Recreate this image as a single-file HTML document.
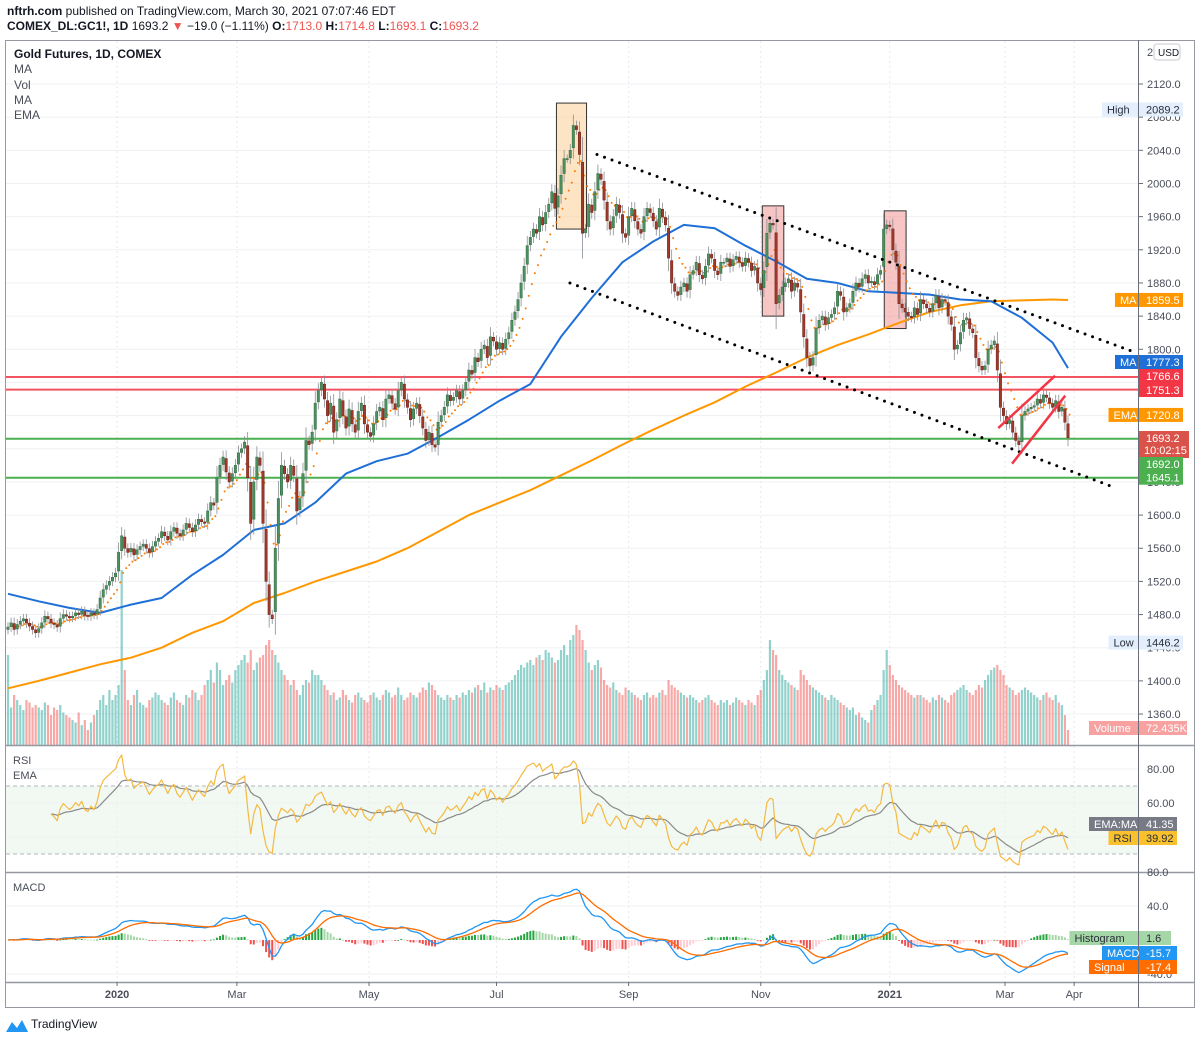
<!DOCTYPE html>
<html><head><meta charset="utf-8">
<style>
html,body{margin:0;padding:0;background:#fff;}
body{width:1200px;height:1040px;overflow:hidden;font-family:"Liberation Sans",sans-serif;}
svg text{font-family:"Liberation Sans",sans-serif;}
</style></head>
<body>
<svg id="c" width="1200" height="1040" viewBox="0 0 1200 1040" xmlns="http://www.w3.org/2000/svg">
<text x="7" y="15" font-size="12" fill="#131722"><tspan font-weight="bold">nftrh.com</tspan> published on TradingView.com, March 30, 2021 07:07:46 EDT</text>
<text x="7" y="30" font-size="12" fill="#131722"><tspan font-weight="bold">COMEX_DL:GC1!, 1D</tspan> 1693.2 <tspan fill="#ef5350">▼</tspan> −19.0 (−1.11%) <tspan font-weight="bold">O:</tspan><tspan fill="#ef5350">1713.0</tspan> <tspan font-weight="bold">H:</tspan><tspan fill="#ef5350">1714.8</tspan> <tspan font-weight="bold">L:</tspan><tspan fill="#ef5350">1693.1</tspan> <tspan font-weight="bold">C:</tspan><tspan fill="#ef5350">1693.2</tspan></text>
<g id="grid"></g>
<g id="marks"></g>
<g id="axes"></g>
</svg>
<script>
// ---- data ----
const closes = [
1465,1470,1462,1468,1472,1475,1470,1466,1462,1458,1463,1470,1478,1475,1470,1468,1465,1475,1480,1478,1476,1478,1482,1480,1484,1479,1478,1482,1480,1486,
1500,1510,1515,1520,1525,1530,
1555,1575,1560,
1555,1560,1552,1558,1562,1565,1560,1555,1562,1568,
1572,1580,1575,1570,1580,1585,1578,1575,1582,1590,1585,1580,1588,1595,1592,1590,
1605,1615,1612,
1645,1660,1670,1652,1640,1650,1660,1675,1680,1688,
1645,1590,1640,1670,1660,1590,1520,1480,1475,
1560,1620,1660,1650,1640,1660,1648,
1605,1620,1650,1690,1685,1700,1735,
1750,1760,1740,
1720,1735,1700,1715,1740,1720,1705,1728,1710,1700,1725,1735,1710,1700,1695,1710,1725,1730,1715,1740,1745,1735,1728,
1750,1760,1740,1730,1715,1728,1735,
1720,1705,1690,1700,1685,1682,1712,1720,
1730,1745,1738,1742,1750,1740,1750,1760,
1775,1770,1790,1785,1800,1805,1790,1815,1810,1800,
1808,1800,1812,
1820,1835,1845,1860,1880,1900,1925,1935,1945,1940,
1960,1950,1965,1975,1990,1970,1985,
2010,2030,2030,2040,2070,2065,
2035,1940,1945,
1975,1965,1990,2012,2005,
1980,1955,1945,1960,1975,1965,1940,1935,1960,1970,1955,1945,1940,1960,1970,1965,
1955,1945,1970,1960,1950,
1910,1880,1870,1865,1875,1880,1870,
1890,1895,1905,1890,1885,1900,1915,1910,1895,1890,1905,
1905,1910,1900,1908,1912,1905,1900,1910,1905,1895,1900,
1880,1872,
1895,1940,1952,1950,
1855,1865,1875,1880,1885,1870,1880,1875,
1845,1815,1790,1780,1790,
1825,1835,1840,1830,1838,1842,1850,1870,1865,1845,1850,
1855,1870,1880,1875,1885,1890,1880,1882,1878,1890,1895,
1945,1950,1948,1920,1905,
1855,1850,1845,1840,1838,1850,1842,
1860,1855,1850,1845,1855,1865,1850,1860,1858,1840,
1830,1800,1805,1820,1835,1838,1825,1820,
1790,1780,1775,1780,1800,1805,1810,1775,
1730,1720,1710,1715,1700,1690,1685,
1720,1725,1728,1730,1732,1740,1735,
1745,1742,1735,1730,1738,1725,1730,1712,1693.2];
const volumes = [
360,150,200,180,160,140,180,170,150,160,150,140,170,160,120,150,140,160,130,120,110,100,90,130,80,100,60,90,120,140,
180,200,160,220,180,200,
240,700,300,
180,160,200,220,170,160,150,180,190,210,
200,180,170,160,190,210,180,170,160,200,190,220,210,180,200,240,
260,300,250,
330,300,240,260,280,250,300,320,340,360,
330,380,300,330,350,360,400,420,380,
360,330,300,280,260,240,260,
220,200,240,260,250,300,280,
280,260,240,
220,200,210,180,190,220,200,180,170,200,210,190,180,170,200,210,190,180,200,220,210,190,200,
230,200,180,190,210,200,190,
210,230,220,250,240,220,200,190,
180,200,190,180,200,190,210,200,
220,210,230,240,220,250,210,230,220,240,
230,220,240,
250,260,280,300,320,310,330,340,320,350,
360,340,380,370,350,330,340,
380,400,360,420,440,480,
460,420,380,
330,300,320,340,310,
260,240,230,250,220,210,200,230,220,210,200,190,180,200,210,190,
200,190,210,220,200,
260,240,230,220,210,200,190,
200,190,180,170,180,190,200,180,170,160,180,
170,180,160,170,190,180,170,160,180,170,160,
200,220,
260,300,420,380,
360,300,280,260,250,240,230,220,
300,280,260,240,230,
220,210,200,190,180,200,190,180,170,160,150,
140,150,120,130,110,100,90,140,160,180,200,
300,380,320,280,260,
240,230,220,210,200,190,200,
200,190,180,170,190,180,200,190,180,170,
200,210,220,230,240,220,210,200,
220,240,230,260,280,300,310,320,
300,280,240,230,220,200,210,
220,230,220,210,200,190,180,
200,210,190,180,200,170,160,120,60];
// 50-day MA sampled every 10 bars (last = final bar)
const ma50 = [1505,1496,1488,1482,1492,1500,1528,1552,1582,1590,1615,1650,1665,1674,1694,1715,1738,1758,1815,1862,1905,1930,1950,1946,1925,1906,1885,1880,1870,1868,1866,1860,1858,1838,1808,1777.3];
// 200-day MA sampled every 10 bars (last = final bar)
const ma200 = [1391,1400,1410,1420,1428,1440,1458,1472,1494,1506,1520,1532,1544,1560,1580,1600,1615,1630,1648,1666,1685,1703,1720,1736,1755,1772,1790,1805,1818,1832,1845,1853,1858,1859,1860,1859.5];
const priceTicks = [1360,1400,1440,1480,1520,1560,1600,1640,1680,1720,1760,1800,1840,1880,1920,1960,2000,2040,2080,2120];
const timeLabels = ["2020","Mar","May","Jul","Sep","Nov","2021","Mar","Apr"];
const timeIdx = [35.5,74.5,117.5,159,202,245,287,324.5,347];
const timeBold = [1,0,0,0,0,0,1,0,0];
const hLevelsRed = [1766.6,1751.3];
const hLevelsGreen = [1692.0,1645.1];

// ---- scales ----
const N = closes.length;
const step = (1068-8)/(N-1);
const xI = i => 8 + i*step;
const yP = p => 84 + (2120-p)*0.829;
const yR = v => 803 - (v-60)*1.7;
const yM = v => 940 - v*0.85;
const NS = "http://www.w3.org/2000/svg";
function mk(tag, attrs, parent){const e=document.createElementNS(NS,tag);for(const k in attrs)e.setAttribute(k,attrs[k]);(parent||document.getElementById('marks')).appendChild(e);return e;}
const grid=document.getElementById('grid'), marks=document.getElementById('marks'), axes=document.getElementById('axes');

let e;
e=mk('rect',{x:5.5,y:40.5,width:1189,height:967,fill:'none',stroke:'#9598a1','stroke-width':1},axes);


[745.5,872.5,982.5].forEach(y=>{e=mk('line',{x1:5,x2:1195,y1:y,y2:y,stroke:'#9598a1','stroke-width':1.5},axes);

});
e=mk('line',{x1:1138.5,x2:1138.5,y1:40,y2:1008,stroke:'#6a6d78','stroke-width':1},axes);



priceTicks.forEach(p=>{const y=yP(p);
 e=mk('line',{x1:6,x2:1138,y1:y,y2:y,stroke:'#eef0f4','stroke-width':1},grid);
 
 
 mk('line',{x1:1138,x2:1143,y1:y,y2:y,stroke:'#6a6d78'},axes);
 e=mk('text',{x:1147,y:y+4,'font-size':11,fill:'#4a4e5a'},axes);e.textContent=p.toFixed(1);
 
 
});
e=mk('text',{x:1147,y:56,'font-size':11,fill:'#4a4e5a'},axes);e.textContent='2';


e=mk('rect',{x:1154,y:44,width:26,height:16,rx:3,fill:'#fff',stroke:'#c8cad0'},axes);


e=mk('text',{x:1158,y:56,'font-size':10,fill:'#131722'},axes);e.textContent='USD';



timeLabels.forEach((t,k)=>{const x=xI(timeIdx[k]);
 e=mk('line',{x1:x,x2:x,y1:41,y2:982,stroke:'#e6e8ee','stroke-dasharray':'2,3'},grid);
 
 
 mk('line',{x1:x,x2:x,y1:982,y2:986,stroke:'#6a6d78'},axes);
 e=mk('text',{x:x,y:998,'font-size':11,fill:'#4a4e5a','text-anchor':'middle','font-weight':timeBold[k]?'bold':'normal'},axes);e.textContent=t;
 
 
});

e=mk('rect',{x:6,y:yR(70),width:1132,height:yR(30)-yR(70),fill:'#e8f5e9','fill-opacity':0.6},grid);


[70,30].forEach(v=>{e=mk('line',{x1:6,x2:1138,y1:yR(v),y2:yR(v),stroke:'#b2b5be','stroke-dasharray':'4,3'},grid);

});
[80,60,40].forEach(v=>{const y=yR(v);
 mk('line',{x1:6,x2:1138,y1:y,y2:y,stroke:'#eef0f4'},grid);
 if(v!==40){e=mk('text',{x:1147,y:y+4,'font-size':11,fill:'#4a4e5a'},axes);e.textContent=v.toFixed(2);
 
 }
});
[40,-40].forEach(v=>{const y=yM(v);
 mk('line',{x1:6,x2:1138,y1:y,y2:y,stroke:'#eef0f4'},grid);
 e=mk('text',{x:1147,y:y+4,'font-size':11,fill:'#4a4e5a'},axes);e.textContent=v.toFixed(1);
 
 
});
e=mk('text',{x:1147,y:876,'font-size':11,fill:'#4a4e5a'},axes);e.textContent='80.0';



const defs=mk('defs',{},document.getElementById('c'));
const cp=mk('clipPath',{id:'mainclip'},defs);mk('rect',{x:6,y:41,width:1132,height:704},cp);
const cp2=mk('clipPath',{id:'rsiclip'},defs);mk('rect',{x:6,y:746,width:1132,height:126},cp2);
const cp3=mk('clipPath',{id:'macdclip'},defs);mk('rect',{x:6,y:873,width:1132,height:109},cp3);
const mainG=mk('g',{'clip-path':'url(#mainclip)'},marks);



for(let i=0;i<N;i++){const o=i?closes[i-1]:closes[0];const up=closes[i]>=o;const h=(volumes[i]||0)*0.25;
 e=mk('rect',{x:xI(i)-1.1,y:745-h,width:2.2,height:h,fill:up?'#26a69a':'#ef5350','fill-opacity':0.5},mainG);
 
 
}

function box(i0,i1,p0,p1,fill,name){e=mk('rect',{x:xI(i0),y:yP(p1),width:xI(i1)-xI(i0),height:yP(p0)-yP(p1),fill:fill,'fill-opacity':0.5,stroke:'#333','stroke-width':1},mainG);
 
 }
box(178.5,188.3,1945,2097,'#fbc98a','highlight-box-aug');
box(245.5,252.5,1840,1973,'#f28b8b','highlight-box-nov');
box(285.2,292.3,1825,1967,'#f28b8b','highlight-box-jan');

hLevelsRed.forEach(p=>{e=mk('line',{x1:6,x2:1138,y1:yP(p),y2:yP(p),stroke:'#f23645','stroke-width':2,'stroke-opacity':0.85},mainG);
 
 });
hLevelsGreen.forEach(p=>{e=mk('line',{x1:6,x2:1138,y1:yP(p),y2:yP(p),stroke:'#4caf50','stroke-width':2},mainG);
 
 });

function sampled(arr){return arr.map((v,k)=>[k===arr.length-1?xI(N-1):xI(k*10),yP(v)]);}
function poly(pts,stroke,w,parent,name,extra){e=mk('polyline',Object.assign({points:pts.map(p=>p[0].toFixed(1)+','+p[1].toFixed(1)).join(' '),fill:'none',stroke:stroke,'stroke-width':w,'stroke-linejoin':'round'},extra||{}),parent);
 
 return e;}
poly(sampled(ma200),'#ff9800',2,mainG,'ma-200-line');
poly(sampled(ma50),'#1e6fd6',2,mainG,'ma-50-line');

let ema=closes[0];const k9=2/10;
for(let i=0;i<N;i++){ema=closes[i]*k9+ema*(1-k9);
 if(i>0){e=mk('circle',{cx:xI(i)+1.5,cy:yP(ema),r:1,fill:'#ff7a00'},mainG);
 
 }
}

for(let i=0;i<N;i++){const o=i?closes[i-1]+(closes[i]-closes[i-1])*0.1:closes[0]-3;const c=closes[i];const up=c>=o;
 const w=Math.abs(c-o)*0.3+5;const hi=Math.max(o,c)+w;const lo=Math.min(o,c)-w;const x=xI(i);
 e=mk('line',{x1:x,x2:x,y1:yP(hi),y2:yP(lo),stroke:'#8a8d95','stroke-width':0.8},mainG);
 
 
 const yt=yP(Math.max(o,c)),yb=yP(Math.min(o,c));
 e=mk('rect',{x:x-1.2,y:yt,width:2.4,height:Math.max(1,yb-yt),fill:up?'#4d8f5e':'#9e3a2c',stroke:up?'#2f6b40':'#6e1f15','stroke-width':0.5},mainG);
 
 
}

function dotted(i0,p0,i1,p1,name){e=mk('line',{x1:xI(i0),y1:yP(p0),x2:xI(i1),y2:yP(p1),stroke:'#000','stroke-width':3,'stroke-dasharray':'0,8','stroke-linecap':'round'},mainG);
 
 }
dotted(191.7,2035,366.3,1797,'channel-upper-line');
dotted(182.9,1880,358.9,1635,'channel-lower-line');
function solid(i0,p0,i1,p1,name){e=mk('line',{x1:xI(i0),y1:yP(p0),x2:xI(i1),y2:yP(p1),stroke:'#f23645','stroke-width':2.5},mainG);
 
 }
solid(322.3,1705,340.8,1768,'flag-upper-line');
solid(326.8,1662,344.1,1744,'flag-lower-line');

// RSI
const rsi=new Array(N).fill(null);let ag=0,al=0;
for(let i=1;i<N;i++){const d=closes[i]-closes[i-1];const g=Math.max(d,0),l=Math.max(-d,0);
 if(i<=14){ag+=g/14;al+=l/14;if(i===14)rsi[i]=100-100/(1+ag/(al||1e-9));}
 else{ag=(ag*13+g)/14;al=(al*13+l)/14;rsi[i]=100-100/(1+ag/(al||1e-9));}}
const rsiG=mk('g',{'clip-path':'url(#rsiclip)'},marks);


const rsiPts=[],rsiEma=[];let re=null;
for(let i=0;i<N;i++){if(rsi[i]==null)continue;rsiPts.push([xI(i),yR(rsi[i])]);re=re==null?rsi[i]:rsi[i]*2/15+re*13/15;rsiEma.push([xI(i),yR(re)]);}
poly(rsiEma,'#8a8a8a',1.2,rsiG,'rsi-ema-line');
poly(rsiPts,'#f5b942',1.2,rsiG,'rsi-line');

// MACD
function emaArr(a,n){const k=2/(n+1);let v=a[0];return a.map(x=>v=x*k+v*(1-k));}
const e12=emaArr(closes,12),e26=emaArr(closes,26);const macd=closes.map((_,i)=>e12[i]-e26[i]);const sig=emaArr(macd,9);
const macdG=mk('g',{'clip-path':'url(#macdclip)'},marks);


for(let i=1;i<N;i++){const h=macd[i]-sig[i];const hp=macd[i-1]-sig[i-1];
 const col=h>=0?(h>=hp?'#26a641':'#a5d6a7'):(h<=hp?'#ef5350':'#ffcdd2');
 const y0=yM(0),y1=yM(h);
 e=mk('rect',{x:xI(i)-1,y:Math.min(y0,y1),width:2,height:Math.max(0.8,Math.abs(y1-y0)),fill:col},macdG);
 
 
}
poly(macd.map((v,i)=>[xI(i),yM(v)]),'#2196f3',1.3,macdG,'macd-line');
poly(sig.map((v,i)=>[xI(i),yM(v)]),'#ff6d00',1.3,macdG,'signal-line');

function txt(x,y,s,t,opts,name){e=mk('text',Object.assign({x:x,y:y,'font-size':s,fill:'#4a4e5a'},opts||{}),axes);e.textContent=t;
 
 return e;}
txt(14,58,12,'Gold Futures, 1D, COMEX',{'font-weight':'bold',fill:'#131722'},'chart-title');
txt(14,73,12,'MA',{},'legend-ma');
txt(14,89,12,'Vol',{},'legend-vol');
txt(14,104,12,'MA',{},'legend-ma-2');
txt(14,119,12,'EMA',{},'legend-ema');
txt(13,764,11,'RSI',{},'legend-rsi');
txt(13,779,11,'EMA',{},'legend-rsi-ema');
txt(13,891,11,'MACD',{},'legend-macd');

function tag(y,label,val,bg,fg,name,w){const lw=label?(label.length*6.5+10):0;const x0=1138-lw;
 if(label){e=mk('rect',{x:x0,y:y-7,width:lw,height:14,fill:bg},axes);
 
 
 txt(x0+5,y+4,11,label,{fill:fg},name+'-label');}
 e=mk('rect',{x:1139,y:y-7,width:w||44,height:14,fill:bg},axes);
 
 
 txt(1146,y+4,11,val,{fill:fg},name+'-value');}
tag(yP(2089.2),'High','2089.2','#e3effd','#2a2e39','high-tag');
tag(yP(1859.5),'MA','1859.5','#ff9800','#fff','ma200-tag');
tag(362,'MA','1777.3','#1e6fd6','#fff','ma50-tag');
tag(376,'','1766.6','#f23645','#fff','level-1766-tag');
tag(390,'','1751.3','#f23645','#fff','level-1751-tag');
tag(yP(1720.8),'EMA','1720.8','#ff9800','#fff','ema-tag');
e=mk('rect',{x:1139,y:431,width:50,height:27,fill:'#d9534a'},axes);


txt(1146,442,11,'1693.2',{fill:'#fff'},'last-price-value');
txt(1144,454,11,'10:02:15',{fill:'#fff'},'countdown');
tag(464,'','1692.0','#4caf50','#fff','level-1692-tag');
tag(yP(1645.1),'','1645.1','#4caf50','#fff','level-1645-tag');
tag(yP(1446.2),'Low','1446.2','#e3effd','#2a2e39','low-tag');
tag(728,'Volume','72.435K','#f7a1a1','#fff','volume-tag',48);
tag(824,'EMA:MA','41.35','#787b86','#fff','rsi-ema-tag',38);
tag(838,'RSI','39.92','#f9c12e','#2a2e39','rsi-tag',38);
tag(938,'Histogram','1.6','#a5d6a7','#2a2e39','histogram-tag',32);
tag(953,'MACD','-15.7','#2196f3','#fff','macd-tag',38);
tag(967,'Signal','-17.4','#ff6d00','#fff','signal-tag',38);

e=mk('path',{d:'M6 1032 L12 1022 L17 1028 L22 1020 L28 1032 Z',fill:'#2196f3'},axes);


txt(31,1028,12,'TradingView',{fill:'#131722'},'tradingview-logo-text');
</script>
</body></html>
